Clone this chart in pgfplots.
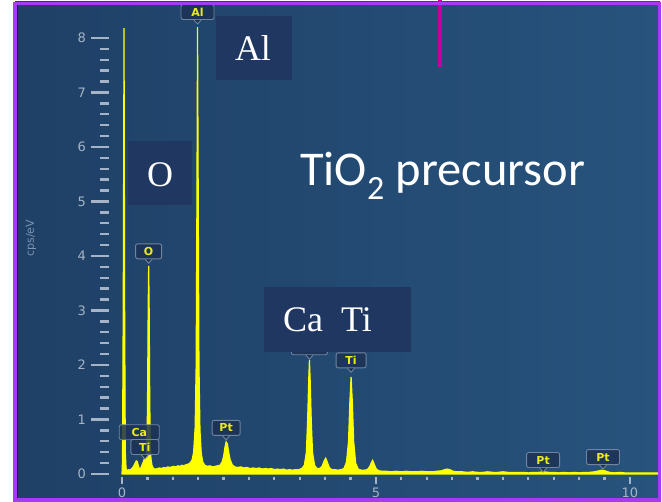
\documentclass[border=0pt]{standalone}
\usepackage{pgfplots}
\pgfplotsset{compat=1.18}
\usepackage{fontspec}
\setmainfont{Liberation Serif}
\newfontfamily\calfont{Carlito}
\newfontfamily\uifont{DejaVu Sans}

\definecolor{bgleft}{RGB}{31,64,103}
\definecolor{bgright}{RGB}{39,83,124}
\definecolor{boxnavy}{RGB}{32,55,97}
\definecolor{tickgray}{RGB}{165,180,198}
\definecolor{axlabel}{RGB}{125,148,175}
\definecolor{lblborder}{RGB}{112,132,158}
\definecolor{lblfill}{RGB}{28,50,84}
\definecolor{lbltext}{RGB}{236,236,20}
\definecolor{framecol}{RGB}{165,60,245}
\definecolor{framedark}{RGB}{60,0,120}
\definecolor{magline}{RGB}{196,0,158}
\definecolor{spec}{RGB}{255,255,0}

% EDS spectrum: energy (keV) vs counts (cps/eV)
\pgfplotstableread{
E      cps
0.000  0.00
0.010  0.25
0.025  3.20
0.040  8.18
0.052  3.00
0.065  0.40
0.080  0.10
0.100  0.06
0.130  0.08
0.160  0.07
0.190  0.10
0.220  0.13
0.250  0.18
0.280  0.24
0.300  0.23
0.320  0.16
0.340  0.10
0.360  0.09
0.380  0.13
0.400  0.18
0.420  0.22
0.440  0.28
0.460  0.30
0.480  0.38
0.495  0.70
0.505  1.60
0.515  3.00
0.525  3.82
0.535  3.00
0.545  1.50
0.555  0.60
0.570  0.28
0.590  0.16
0.620  0.10
0.660  0.09
0.700  0.10
0.740  0.11
0.780  0.10
0.820  0.12
0.860  0.11
0.900  0.13
0.940  0.12
0.980  0.13
1.020  0.14
1.060  0.13
1.100  0.15
1.140  0.14
1.180  0.16
1.220  0.15
1.260  0.17
1.300  0.18
1.340  0.20
1.380  0.26
1.410  0.40
1.440  0.85
1.460  2.00
1.475  5.00
1.487  8.20
1.500  5.20
1.515  2.00
1.535  0.80
1.560  0.38
1.590  0.22
1.630  0.16
1.680  0.14
1.730  0.15
1.780  0.13
1.830  0.14
1.880  0.15
1.930  0.16
1.970  0.22
2.000  0.32
2.025  0.48
2.050  0.59
2.075  0.55
2.100  0.40
2.130  0.26
2.170  0.17
2.220  0.13
2.280  0.12
2.340  0.13
2.400  0.11
2.460  0.12
2.520  0.10
2.580  0.11
2.640  0.10
2.700  0.11
2.760  0.09
2.820  0.10
2.880  0.09
2.940  0.10
3.000  0.08
3.060  0.09
3.120  0.08
3.180  0.09
3.240  0.07
3.300  0.08
3.360  0.07
3.420  0.08
3.480  0.08
3.540  0.10
3.590  0.16
3.630  0.40
3.655  1.00
3.675  1.70
3.690  2.09
3.705  1.70
3.725  1.00
3.750  0.40
3.790  0.16
3.840  0.10
3.890  0.10
3.940  0.14
3.980  0.24
4.010  0.29
4.040  0.22
4.080  0.12
4.130  0.08
4.190  0.08
4.250  0.07
4.310  0.08
4.370  0.10
4.420  0.22
4.460  0.60
4.485  1.30
4.510  1.78
4.535  1.30
4.560  0.60
4.600  0.20
4.650  0.09
4.710  0.07
4.770  0.07
4.830  0.08
4.880  0.14
4.910  0.21
4.935  0.25
4.960  0.19
5.000  0.10
5.050  0.06
5.120  0.05
5.200  0.05
5.300  0.04
5.400  0.05
5.500  0.04
5.600  0.05
5.700  0.04
5.800  0.04
5.900  0.05
6.000  0.04
6.100  0.04
6.200  0.05
6.300  0.06
6.350  0.08
6.400  0.09
6.450  0.08
6.520  0.05
6.600  0.04
6.700  0.04
6.800  0.03
6.900  0.04
7.000  0.03
7.100  0.03
7.200  0.04
7.300  0.03
7.400  0.03
7.500  0.04
7.600  0.03
7.700  0.03
7.800  0.03
7.900  0.03
8.000  0.02
8.100  0.03
8.200  0.03
8.300  0.04
8.400  0.03
8.500  0.03
8.600  0.02
8.700  0.03
8.800  0.02
8.900  0.03
9.000  0.02
9.100  0.03
9.200  0.03
9.300  0.04
9.400  0.06
9.450  0.07
9.500  0.06
9.600  0.03
9.700  0.02
9.800  0.03
9.900  0.02
10.00  0.02
10.20  0.02
10.40  0.02
10.55  0.02
}\spectrum

\pgfplotsset{
  edsaxis/.style={
    at={(109pt,25pt)}, anchor=south west,
    scale only axis, width=548.9pt, height=473.9pt,
    xmin=-0.256, xmax=10.55, ymin=-0.055, ymax=8.64,
    axis line style={draw=none}, tick align=outside,
    /pgf/number format/assume math mode=true,
    tick label style={font=\uifont\fontsize{13}{13}\selectfont, text=tickgray},
  },
}
\tikzset{
  lbl/.style={draw=lblborder, fill=lblfill, fill opacity=0.85, text opacity=1,
    rounded corners=2pt, inner sep=0pt, minimum height=15pt, line width=0.9pt,
    font=\uifont\bfseries\fontsize{11}{11}\selectfont, text=lbltext},
}
% element marker above a peak: box with a small pointer
\newcommand{\pk}[4]{%
  \node[lbl, anchor=south, minimum width=#4] (tmp) at (axis cs:#1,#2) {#3};
  \filldraw[draw=lblborder, fill=lblfill, line width=0.9pt] ([xshift=-3.5pt]tmp.south) -- ([yshift=-4pt]tmp.south) -- ([xshift=3.5pt]tmp.south);
}

\begin{document}
\begin{tikzpicture}[x=1pt,y=1pt]
\path[use as bounding box] (0,0) rectangle (662,502);
\fill[white] (0,0) rectangle (662,502);
\shade[left color=bgleft, right color=bgright] (15,2) rectangle (660,500);

% y scale
\begin{axis}[edsaxis,
  xtick=\empty, ytick={0,1,...,8}, minor y tick num=4, ytick pos=left,
  major tick length=18pt, minor tick length=9pt,
  y tick style={draw=tickgray, line width=2.4pt},
  yticklabel style={anchor=east, inner sep=0pt, xshift=-5pt},
  ylabel={cps/eV},
  every axis y label/.style={at={(axis description cs:-0.142,0.504)}, rotate=90, anchor=center,
    font=\uifont\fontsize{11}{11}\selectfont, text=axlabel},
]
\end{axis}

% energy scale and spectrum
\begin{axis}[edsaxis,
  ytick=\empty, xtick={0,5,10}, minor x tick num=9, xtick pos=bottom,
  major tick length=7pt, minor tick length=3.5pt,
  x tick style={draw=tickgray, line width=2.2pt},
  xticklabel style={anchor=north, inner sep=0pt, yshift=-4pt},
]
\addplot[draw=spec, fill=spec, line width=1.2pt] table[x=E, y=cps] {\spectrum} \closedcycle;

\pk{0.34}{0.62}{Ca}{40pt}
\pk{0.45}{0.35}{Ti}{28pt}
\pk{0.525}{3.94}{O}{26pt}
\pk{1.487}{8.33}{Al}{33pt}
\pk{2.05}{0.70}{Pt}{28pt}
\pk{3.69}{2.18}{Ca}{36pt}
\pk{4.51}{1.94}{Ti}{30pt}
\pk{8.29}{0.11}{Pt}{33pt}
\pk{9.47}{0.165}{Pt}{33pt}
\end{axis}

% annotation boxes
\fill[boxnavy] (216,422) rectangle (292,486);
\node[anchor=base, text=white, font=\fontsize{36}{36}\selectfont, inner sep=0pt] at (253,441) {Al};
\fill[boxnavy] (128,297) rectangle (192,361);
\node[anchor=base, text=white, font=\fontsize{36}{36}\selectfont, inner sep=0pt] at (160,315) {O};
\fill[boxnavy] (264,150) rectangle (411,215);
\node[anchor=base west, text=white, font=\fontsize{36}{36}\selectfont, inner sep=0pt] at (283,170) {Ca\hspace{18pt}Ti};

\node[anchor=base west, text=white, font=\calfont\fontsize{48.5}{48.5}\selectfont, inner sep=0pt] at (300,316) {TiO\textsubscript{2} precursor};

\draw[magline, line width=4pt] (439.5,502) -- (439.5,435);

% frame
\draw[framecol, line width=3.5pt] (15,2) rectangle (659.5,498.5);
\draw[framedark, line width=1.2pt] (17.3,3.5) -- (17.3,497);
\end{tikzpicture}
\end{document}
